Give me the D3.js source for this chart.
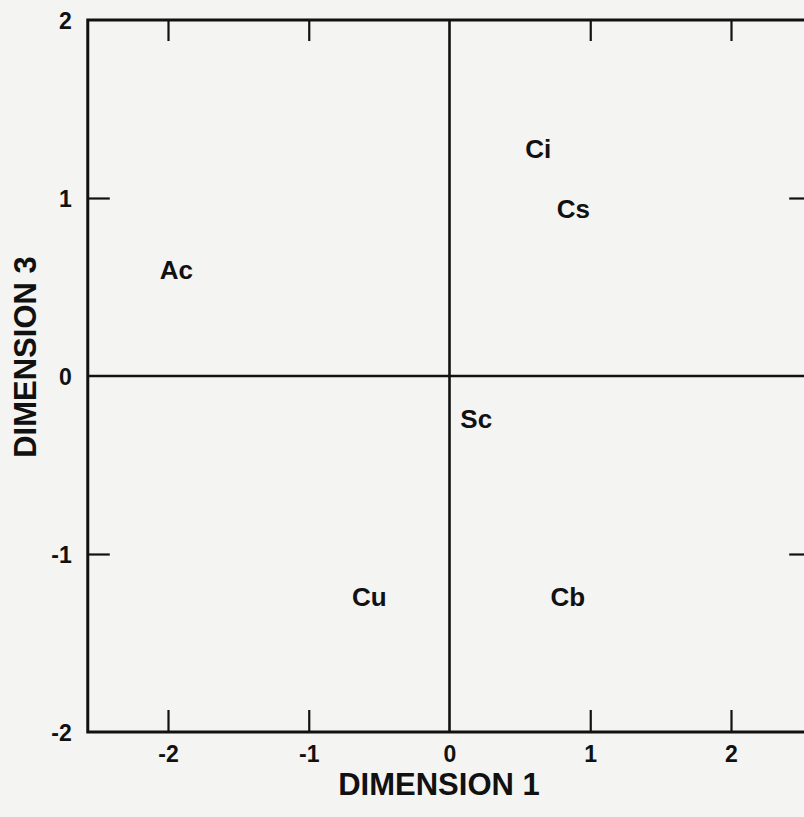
<!DOCTYPE html>
<html><head><meta charset="utf-8">
<script src="https://cdn.jsdelivr.net/npm/d3@7"></script>
<style>
html,body{margin:0;padding:0;background:#f4f4f3;}
svg{display:block;}
text{font-family:"Liberation Sans",Arial,sans-serif;font-weight:bold;fill:#111;}
</style></head>
<body>
<script>
// Data
const labels = ["Ci", "Cs", "Ac", "Sc", "Cu", "Cb"];
const dim1 = [0.63, 0.88, -1.94, 0.19, -0.57, 0.84];
const dim3 = [1.28, 0.94, 0.60, -0.24, -1.24, -1.24];
const xTicks = [-2, -1, 0, 1, 2];
const yTicks = [-2, -1, 0, 1, 2];
const xTitle = "DIMENSION 1";
const yTitle = "DIMENSION 3";

const W = 804, H = 817;
const svg = d3.select("body").append("svg").attr("width", W).attr("height", H);

const x = d3.scaleLinear().domain([-2, 2]).range([168, 731]);
const y = d3.scaleLinear().domain([-2, 2]).range([732, 20]);
const xMin = -2.57, xMax = 2.57, yMin = -2, yMax = 2;

const fmt = d => d < 0 ? "-" + Math.abs(d) : String(d);

// Bottom axis (ticks inward, labels below)
const gB = svg.append("g").attr("transform", `translate(0,${y(yMin)})`)
  .call(d3.axisBottom(x).tickValues(xTicks).tickSizeInner(-22).tickSizeOuter(0).tickPadding(14).tickFormat(fmt));
// Top axis
const gT = svg.append("g").attr("transform", `translate(0,${y(yMax)})`)
  .call(d3.axisTop(x).tickValues(xTicks.filter(d => d !== 0)).tickSizeInner(-21).tickSizeOuter(0).tickFormat(""));
// Left axis
const gL = svg.append("g").attr("transform", `translate(${x(xMin)},0)`)
  .call(d3.axisLeft(y).tickValues(yTicks).tickSizeInner(-22).tickSizeOuter(0).tickPadding(16).tickFormat(fmt));
// Right axis
const gR = svg.append("g").attr("transform", `translate(${x(xMax)},0)`)
  .call(d3.axisRight(y).tickValues(yTicks.filter(d => d !== 0 && Math.abs(d) !== 2)).tickSizeInner(-22).tickSizeOuter(0).tickFormat(""));

[gB, gT, gL, gR].forEach(g => {
  g.select(".domain").remove();
  g.selectAll(".tick line").attr("stroke", "#111").attr("stroke-width", 2.2);
  g.selectAll(".tick text").style("font-size", "23px").attr("fill", "#111");
});
// Hide tick lines at 0 and at frame corners (covered by lines)
gB.selectAll(".tick").filter(d => d === 0).select("line").remove();
gL.selectAll(".tick").filter(d => d === 0 || Math.abs(d) === 2).select("line").remove();
gL.selectAll(".tick text").attr("dy", "0.36em");

// Frame
svg.append("rect")
  .attr("x", x(xMin)).attr("y", y(yMax))
  .attr("width", x(xMax) - x(xMin)).attr("height", y(yMin) - y(yMax))
  .attr("fill", "none").attr("stroke", "#111").attr("stroke-width", 3);

// Zero cross lines
svg.append("line").attr("x1", x(0)).attr("x2", x(0)).attr("y1", y(yMax)).attr("y2", y(yMin))
  .attr("stroke", "#111").attr("stroke-width", 2.6);
svg.append("line").attr("x1", x(xMin)).attr("x2", x(xMax)).attr("y1", y(0)).attr("y2", y(0))
  .attr("stroke", "#111").attr("stroke-width", 2.6);

// Point labels
svg.append("g").selectAll("text").data(labels).join("text")
  .attr("x", (d, i) => x(dim1[i]))
  .attr("y", (d, i) => y(dim3[i]))
  .attr("text-anchor", "middle").attr("dy", "0.36em")
  .style("font-size", "26px")
  .text(d => d);

// Axis titles
svg.append("text").attr("x", 439).attr("y", 795).attr("text-anchor", "middle")
  .style("font-size", "31px").text(xTitle);
svg.append("text").attr("transform", "translate(36,357) rotate(-90)").attr("text-anchor", "middle")
  .style("font-size", "31px").text(yTitle);
</script>
</body></html>
